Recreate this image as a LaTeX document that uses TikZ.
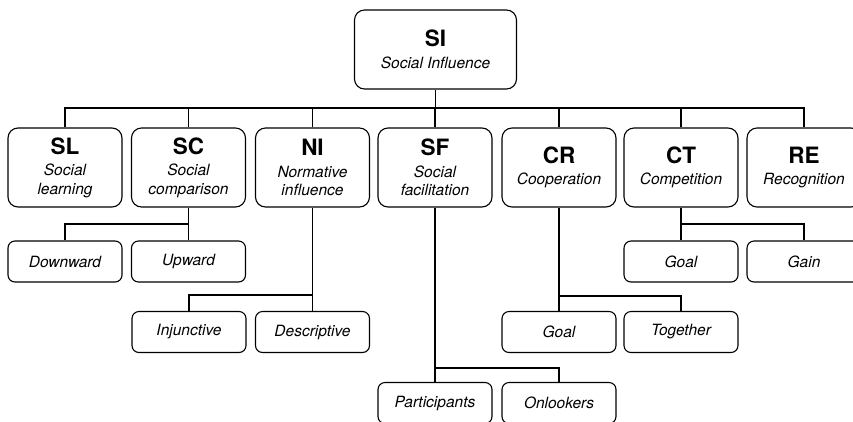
\documentclass[tikz,border=0pt]{standalone}
\usepackage{fontspec}
\setmainfont{TeX Gyre Heros}
\newcommand{\ttl}[1]{{\fontsize{22.5}{22}\selectfont\bfseries\upshape #1}}
\tikzset{
  big/.style={draw, line width=1.1pt, rounded corners=10pt, minimum width=114pt, minimum height=79pt,
    align=center, inner sep=0pt, font=\fontsize{15.5}{18.5}\selectfont\itshape},
  small/.style={draw, line width=1.1pt, rounded corners=7pt, minimum width=114pt, minimum height=41pt,
    align=center, inner sep=0pt, font=\fontsize{15.5}{18.5}\selectfont\itshape},
  link/.style={line width=1.1pt}
}
\begin{document}
\begin{tikzpicture}[x=1pt,y=-1pt]
\useasboundingbox (0,0) rectangle (853,421);
\node[big, minimum width=162pt] (SI) at (435.5,49.5) {\ttl{SI}\\[3pt]Social Influence};
\node[big] (SL) at (65,167.5) {\ttl{SL}\\[3pt]Social\\learning};
\node[big] (SC) at (188.5,167.5) {\ttl{SC}\\[3pt]Social\\comparison};
\node[big] (NI) at (312.5,167.5) {\ttl{NI}\\[3pt]Normative\\influence};
\node[big] (SF) at (435,167.5) {\ttl{SF}\\[3pt]Social\\facilitation};
\node[big] (CR) at (559,167.5) {\ttl{CR}\\[3pt]Cooperation};
\node[big] (CT) at (681,167.5) {\ttl{CT}\\[3pt]Competition};
\node[big] (RE) at (804,167.5) {\ttl{RE}\\[3pt]Recognition};

\node[small] (DW) at (65,261.5) {Downward};
\node[small] (UP) at (188.5,261.5) {Upward};
\node[small] (CTG) at (681,261.5) {Goal};
\node[small] (GA) at (804,261.5) {Gain};

\node[small] (IN) at (189,332) {Injunctive};
\node[small] (DE) at (312.5,332) {Descriptive};
\node[small] (CRG) at (559,332) {Goal};
\node[small] (TO) at (681,332) {Together};

\node[small] (PA) at (435,403) {Participants};
\node[small] (ON) at (559,403) {Onlookers};

\coordinate (bus) at (435.5,108);
\draw[link] (SI.south) -- (bus);
\foreach \n in {SL,SC,NI,SF,CR,CT,RE} \draw[link] (\n.north) |- (bus);

\coordinate (scb) at (188.5,224);
\draw[link] (SC.south) -- (scb) -| (DW.north);
\draw[link] (scb) -- (UP.north);

\coordinate (nib) at (312.5,295);
\draw[link] (NI.south) -- (nib) -| (IN.north);
\draw[link] (nib) -- (DE.north);

\coordinate (ctb) at (681,224);
\draw[link] (CT.south) -- (ctb) -| (GA.north);
\draw[link] (ctb) -- (CTG.north);

\coordinate (crb) at (559,296);
\draw[link] (CR.south) -- (crb) -| (TO.north);
\draw[link] (crb) -- (CRG.north);

\coordinate (sfb) at (435,368);
\draw[link] (SF.south) -- (sfb) -| (ON.north);
\draw[link] (sfb) -- (PA.north);
\end{tikzpicture}
\end{document}
